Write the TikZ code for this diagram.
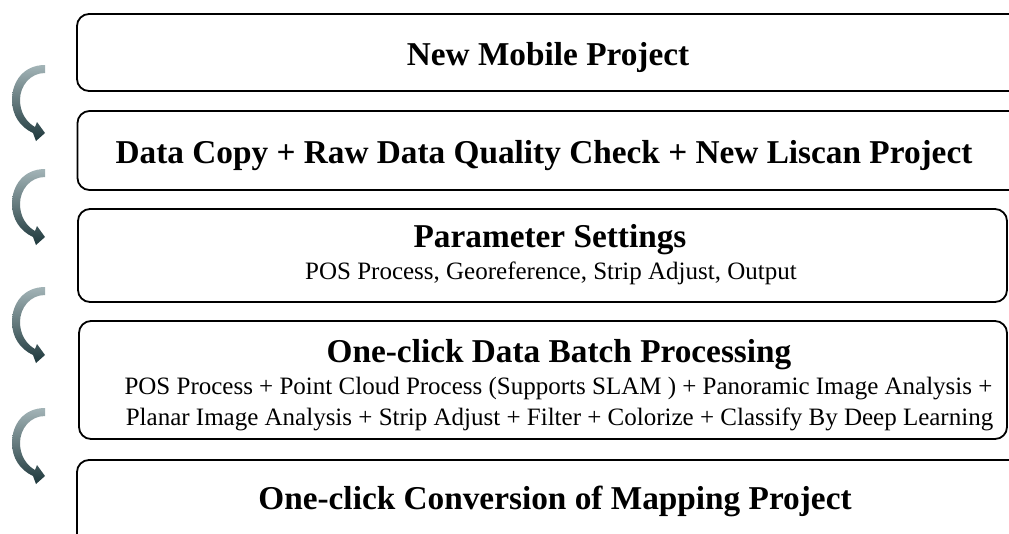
\documentclass[tikz,border=0pt]{standalone}
\usepackage{fontspec}
\setmainfont{Liberation Serif}
\definecolor{arrtop}{HTML}{A3B4B7}
\definecolor{arrbot}{HTML}{1E383C}
\tikzset{
  stepbox/.style={draw=black, line width=1.8pt, rounded corners=12pt},
  ttl/.style={font=\bfseries\fontsize{33.3}{36}\selectfont, anchor=base, inner sep=0pt},
  sub/.style={font=\fontsize{25}{28}\selectfont, anchor=base, inner sep=0pt},
  curvarrow/.style={top color=arrtop, bottom color=arrbot, draw=none}
}
\begin{document}
\begin{tikzpicture}[x=1pt,y=-1pt]
\useasboundingbox (0,0) rectangle (1009,533);
\clip (0,0) rectangle (1009,533);
% boxes
\draw[stepbox] (77,14) rectangle (1030,91);
\draw[stepbox] (77.5,111) rectangle (1030,190);
\draw[stepbox] (78,209) rectangle (1007,302);
\draw[stepbox] (79,321) rectangle (1007,439);
\draw[stepbox] (77,460) rectangle (1030,570);
% texts
\node[ttl] (t1) at (548,65) {New Mobile Project};
\node[ttl] (t2) at (544,163) {Data Copy + Raw Data Quality Check + New Liscan Project};
\node[ttl] (t3) at (550,247) {Parameter Settings};
\node[sub] (s3) at (551,279) {POS Process, Georeference, Strip Adjust, Output};
\node[ttl] (t4) at (559,362) {One-click Data Batch Processing};
\node[sub] (s4a) at (558.5,394) {POS Process + Point Cloud Process (Supports SLAM ) + Panoramic Image Analysis +};
\node[sub] (s4b) at (559.5,425) {Planar Image Analysis + Strip Adjust + Filter + Colorize + Classify By Deep Learning};
\node[ttl] (t5) at (555,509) {One-click Conversion of Mapping Project};
% curved arrows
\foreach \yy in {65,169,287,408}{
  \shade[curvarrow, shift={(0,\yy)}]
    (45,0) .. controls (24,0) and (12,16) .. (12,35)
    .. controls (12,50) and (20,62) .. (33,68)
    -- (36,76) -- (45,68) -- (37,57) -- (35,62)
    .. controls (26,57) and (20,47) .. (20,35)
    .. controls (20,21) and (30,8) .. (45,8) -- cycle;
}
\end{tikzpicture}
\end{document}
